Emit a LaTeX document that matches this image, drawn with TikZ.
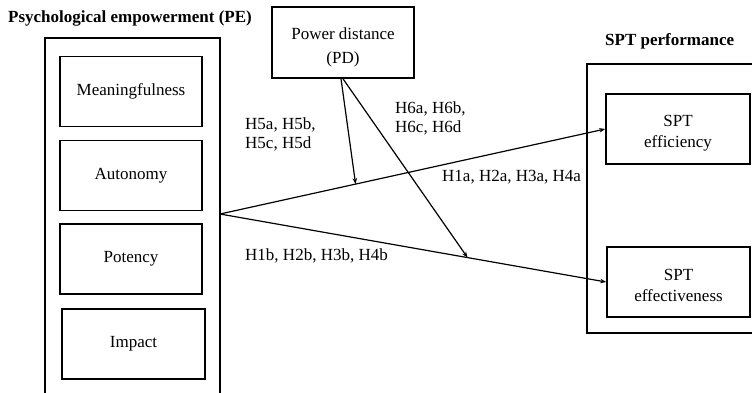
\documentclass[tikz,border=0pt]{standalone}
\usepackage{fontspec}
\setmainfont{Liberation Serif}
\usetikzlibrary{arrows.meta}

\begin{document}
\begin{tikzpicture}
            [x=1bp,y=-1bp,every node/.style={font=\fontsize{17bp}{20bp}\selectfont,inner sep=0},
            box/.style={draw,line width=1.6bp,align=center,minimum height=70bp},
            hyp/.style={anchor=west,align=left,font=\fontsize{17bp}{19bp}\selectfont},
            link/.style={line width=1.2bp,-{Stealth[length=6bp,width=4.5bp]}}]

            \clip (0, 0) rectangle (752, 392);

            % outer groups
            \draw[line width=1.8bp] (45, 38) rectangle (220, 420);
            \draw[line width=1.8bp] (587, 64) rectangle (770, 333);
            \node[anchor=west,font=\fontsize{17bp}{20bp}\selectfont\bfseries] (pe) at (8, 18) {Psychological empowerment (PE)};
            \node[anchor=west,font=\fontsize{17bp}{20bp}\selectfont\bfseries] (spt) at (605, 41) {SPT performance};

            \node[box,minimum width=142bp] (mean) at (131, 91.5) {Meaningfulness};
            \node[box,minimum width=142bp] (auto) at (131, 175.5) {Autonomy};
            \node[box,minimum width=142bp] (pote) at (131, 259) {Potency};
            \node[box,minimum width=143bp] (impa) at (133.5, 344) {Impact};

            \node[box,minimum width=142bp,minimum height=71bp,font=\fontsize{17bp}{24bp}\selectfont] (pd) at (343, 42.5) {\rule{0pt}{21bp}Power distance\\(PD)};
            \node[box,minimum width=144bp,font=\fontsize{17bp}{21bp}\selectfont] (effi) at (678, 129) {\rule{0pt}{19bp}SPT\\efficiency};
            \node[box,minimum width=143bp,font=\fontsize{17bp}{21bp}\selectfont] (effe) at (678.5, 282) {\rule{0pt}{18bp}SPT\\effectiveness};

            \coordinate (src) at (220, 214);
            \path (src) -- (effi.west) coordinate[pos=0.352] (mod1);
            \path (src) -- (effe.west) coordinate[pos=0.641] (mod2);

            \draw[link] (src) -- (effi.west);
            \draw[link] (src) -- (effe.west);
            \draw[link] ([xshift=-2bp]pd.south) -- (mod1);
            \draw[link] (pd.south) -- (mod2);

            \node[hyp] (h5) at (245, 134) {H5a, H5b,\\H5c, H5d};
            \node[hyp] (h6) at (395, 118) {H6a, H6b,\\H6c, H6d};
            \node[hyp] (h1a) at (442, 177) {H1a, H2a, H3a, H4a};
            \node[hyp] (h1b) at (245, 256) {H1b, H2b, H3b, H4b};
          \end{tikzpicture}
\end{document}
